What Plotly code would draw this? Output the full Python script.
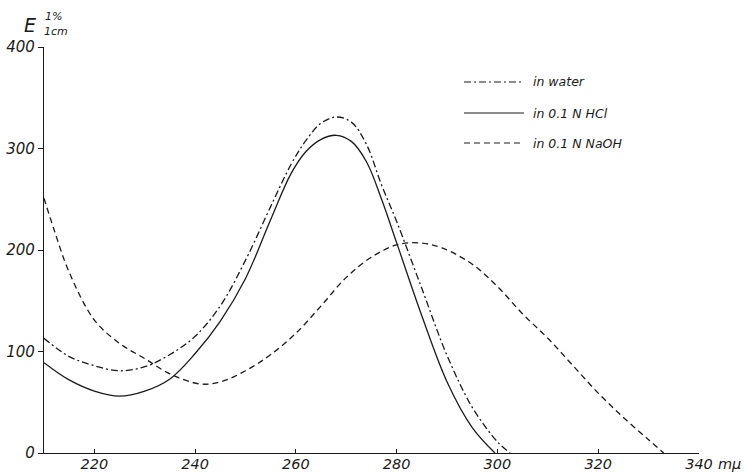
import plotly.graph_objects as go

# ---- data (wavelength in mμ, E 1%/1cm) ----
water_x = [210, 215, 220, 225, 230, 235, 240, 245, 250, 255, 259, 262, 265, 268, 271, 274, 277, 280, 285, 290, 295, 300, 302.5]
water_y = [113, 95, 86, 81, 85, 97, 115, 145, 190, 243, 284, 308, 325, 331, 326, 304, 264, 228, 162, 96, 45, 11, 0]

hcl_x = [210, 215, 220, 225, 230, 235, 240, 245, 250, 255, 259, 262, 265, 268, 271, 274, 277, 280, 285, 290, 295, 299.5]
hcl_y = [89, 72, 61, 56, 61, 73, 98, 130, 172, 230, 275, 297, 309, 313, 307, 287, 250, 207, 135, 70, 25, 0]

naoh_x = [210, 212, 215, 220, 225, 230, 235, 241, 245, 250, 255, 260, 265, 270, 275, 280, 284.5, 289, 295, 300, 305, 310, 315, 320, 325, 330, 333]
naoh_y = [251, 220, 178, 131, 108, 93, 78, 68, 70, 81, 97, 118, 145, 173, 193, 205, 207, 202, 186, 164, 137, 113, 86, 59, 35, 13, 0]

x_ticks = [220, 240, 260, 280, 300, 320, 340]
y_ticks = [0, 100, 200, 300, 400]

legend_labels = ["in water", "in 0.1 N HCl", "in 0.1 N NaOH"]

INK = "#1a1a1a"
FONT = "DejaVu Sans"
dash_water = "7px,3px,2px,3px"
dash_hcl = "solid"
dash_naoh = "6px,4px"

fig = go.Figure()
series = [(water_x, water_y, dash_water, legend_labels[0]),
          (hcl_x, hcl_y, dash_hcl, legend_labels[1]),
          (naoh_x, naoh_y, dash_naoh, legend_labels[2])]
for xs, ys, dash, name in series:
    fig.add_trace(go.Scatter(
        x=xs, y=ys, mode="lines", name=name, showlegend=False,
        line=dict(color=INK, width=1.3, dash=dash, shape="spline", smoothing=1.0),
        hoverinfo="x+y+name",
    ))

W, H = 745, 474
ml, mr, mt, mb = 44, 46, 47, 21
pw, ph = W - ml - mr, H - mt - mb

def px2paper(px, py):
    return (px - ml) / pw, (H - mb - py) / ph

# hand-drawn style legend (line samples + italic text), as in the reference
legend_rows = [(82, dash_water), (113, dash_hcl), (143, dash_naoh)]
for (py, dash), label in zip(legend_rows, legend_labels):
    x0, y0 = px2paper(464, py)
    x1, _ = px2paper(524, py)
    fig.add_shape(type="line", xref="paper", yref="paper", x0=x0, x1=x1, y0=y0, y1=y0,
                  line=dict(color=INK, width=1.2, dash=dash))
    tx, ty = px2paper(531, py)
    fig.add_annotation(xref="paper", yref="paper", x=tx, y=ty, text=label,
                       showarrow=False, xanchor="left", yanchor="middle",
                       font=dict(family=FONT, size=12.5, color=INK, style="italic"))

# axis title E 1% / 1cm at top left
ex, ey = px2paper(30, 25)
fig.add_annotation(xref="paper", yref="paper", x=ex, y=ey, text="E", showarrow=False,
                   xanchor="center", yanchor="middle",
                   font=dict(family=FONT, size=19, color=INK, style="italic"))
sx, sy = px2paper(43, 17)
fig.add_annotation(xref="paper", yref="paper", x=sx, y=sy, text="1%", showarrow=False,
                   xanchor="left", yanchor="middle",
                   font=dict(family=FONT, size=11, color=INK, style="italic"))
bx, by = px2paper(42, 31)
fig.add_annotation(xref="paper", yref="paper", x=bx, y=by, text="1cm", showarrow=False,
                   xanchor="left", yanchor="middle",
                   font=dict(family=FONT, size=11, color=INK, style="italic"))

# unit label after the last x tick
ux, uy = px2paper(743, 464)
fig.add_annotation(xref="paper", yref="paper", x=ux, y=uy, text="mμ", showarrow=False,
                   xanchor="right", yanchor="middle",
                   font=dict(family=FONT, size=14.5, color=INK, style="italic"))

fig.update_layout(
    width=W, height=H,
    margin=dict(l=ml, r=mr, t=mt, b=mb, autoexpand=False),
    paper_bgcolor="white", plot_bgcolor="white",
    showlegend=False,
)
fig.update_xaxes(
    range=[210, 340], tickvals=x_ticks, ticktext=[str(v) for v in x_ticks],
    showgrid=False, zeroline=False, showline=True, linecolor=INK, linewidth=1.3,
    ticks="inside", ticklen=4, tickcolor=INK, tickwidth=1,
    ticklabelstandoff=-3, automargin=False,
    tickfont=dict(family=FONT, size=14.5, color=INK, style="italic"),
)
fig.update_yaxes(
    range=[0, 400], tickvals=y_ticks, ticktext=[str(v) for v in y_ticks],
    showgrid=False, zeroline=False, showline=True, linecolor=INK, linewidth=1.3,
    ticks="outside", ticklen=5, tickcolor=INK, tickwidth=1, automargin=False,
    tickfont=dict(family=FONT, size=15, color=INK, style="italic"),
)

fig.write_html(
    "out.html",
    config={"displayModeBar": False},
    post_script="document.body.style.margin='0';document.body.style.overflow='hidden';",
)
